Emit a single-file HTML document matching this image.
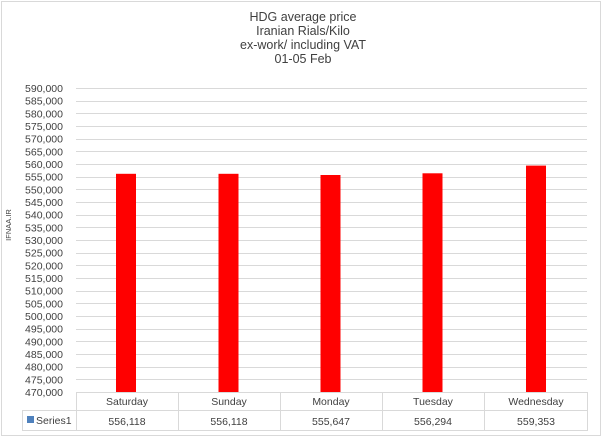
<!DOCTYPE html>
<html><head><style>body{margin:0;background:#fff}svg{display:block}text{font-family:"Liberation Sans",Arial,sans-serif;fill:#404040}</style></head>
<body>
<svg width="606" height="438" viewBox="0 0 606 438">
<rect x="1.5" y="1.5" width="599" height="434" fill="#fff" stroke="#d9d9d9"/>
<g font-size="12.5" text-anchor="middle">
<text x="303" y="21">HDG average  price</text>
<text x="303" y="35">Iranian Rials/Kilo</text>
<text x="303" y="49">ex-work/ including VAT</text>
<text x="303" y="63">01-05  Feb</text>
</g>
<text transform="translate(11,225) rotate(-90)" font-size="7.5" text-anchor="middle">IFNAA.IR</text>
<g id="grid" stroke="#d9d9d9" stroke-width="1"></g>
<g id="ylab" font-size="10.5" text-anchor="end"></g>
<g fill="#ff0000">
<rect x="116" y="173.8" width="20" height="218.2"/>
<rect x="218.5" y="173.8" width="20" height="218.2"/>
<rect x="320.5" y="175" width="20" height="217"/>
<rect x="422.5" y="173.3" width="20" height="218.7"/>
<rect x="526" y="165.6" width="20" height="226.4"/>
</g>
<g stroke="#d9d9d9" fill="none">
<path d="M76 392.5H587.5M22 410.5H587.5M22 430.5H587.5M22.5 410V431M76.5 392V431M178.5 392V431M280.5 392V431M382.5 392V431M484.5 392V431M587.5 392V431"/>
</g>
<rect x="27" y="416" width="7" height="7" fill="#4f81bd"/>
<text x="36" y="424" font-size="10.5">Series1</text>
<g font-size="10.5" text-anchor="middle">
<text x="127" y="405">Saturday</text><text x="229" y="405">Sunday</text><text x="331" y="405">Monday</text><text x="433" y="405">Tuesday</text><text x="536" y="405">Wednesday</text>
<text x="127" y="425">556,118</text><text x="229" y="425">556,118</text><text x="331" y="425">555,647</text><text x="433" y="425">556,294</text><text x="536" y="425">559,353</text>
</g>
</svg>
<script>
var g=document.getElementById('grid'),l=document.getElementById('ylab'),ns='http://www.w3.org/2000/svg';
for(var i=0;i<=24;i++){var y=392-i*12.667,v=470000+i*5000;
if(i>0){var p=document.createElementNS(ns,'line');p.setAttribute('x1',76);p.setAttribute('x2',587);p.setAttribute('y1',Math.round(y)+0.5);p.setAttribute('y2',Math.round(y)+0.5);g.appendChild(p);}
var t=document.createElementNS(ns,'text');t.setAttribute('x',63);t.setAttribute('y',y+4);t.textContent=v.toLocaleString('en-US');l.appendChild(t);}
</script>
</body></html>
